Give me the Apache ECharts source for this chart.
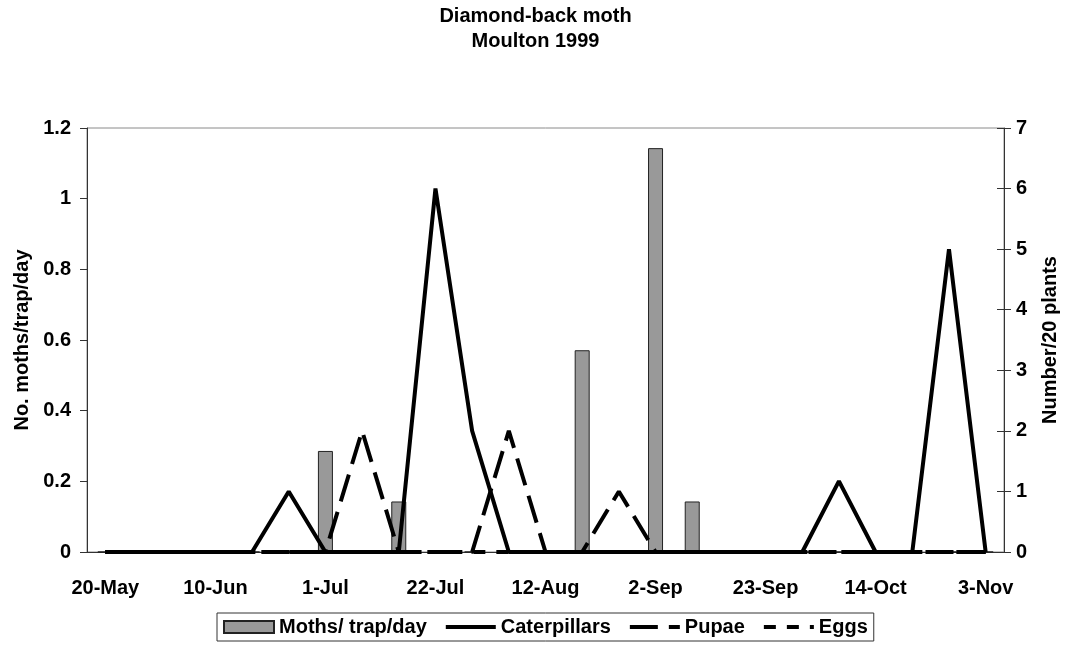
<!DOCTYPE html>
<html><head><meta charset="utf-8">
<script src="https://cdn.jsdelivr.net/npm/echarts@6/dist/echarts.min.js"></script>
<style>html,body{margin:0;padding:0;background:#fff}#c{width:1071px;height:650px}</style>
</head><body><div id="c"></div>
<script>
// Weekly sampling dates (category axis), labels shown every third week
const categories = ['20-May','27-May','3-Jun','10-Jun','17-Jun','24-Jun','1-Jul','8-Jul','15-Jul','22-Jul','29-Jul','5-Aug','12-Aug','19-Aug','26-Aug','2-Sep','9-Sep','16-Sep','23-Sep','30-Sep','7-Oct','14-Oct','21-Oct','28-Oct','3-Nov'];
// Left axis: moths per trap per day
const moths = [0,0,0,0,0,0,0.286,0,0.143,0,0,0,0,0.571,0,1.143,0.143,0,0,0,0,0,0,0,0];
// Right axis: number per 20 plants
const caterpillars = [0,0,0,0,0,1,0,0,0,6,2,0,0,0,0,0,0,0,0,0,1.17,0,0,5,0];
const pupae = [0,0,0,0,0,0,0,2,0,0,0,2,0,0,1,0,0,0,0,0,0,0,0,0,0];
const eggs = [0,0,0,0,0,0,0,0,0,0,0,0,0,0,0,0,0,0,0,0,0,0,0,0,0];
const leftTicks = {min:0, max:1.2, interval:0.2};
const rightTicks = {min:0, max:7, interval:1};

const FONT = '"Liberation Sans", Arial, sans-serif';
const txt = {fontFamily: FONT, fontWeight: 'bold', fontSize: 20, color: '#000'};
const noSymbol = {opacity: 0};
const chart = echarts.init(document.getElementById('c'), null, {renderer: 'canvas'});
chart.setOption({
  animation: false,
  backgroundColor: '#fff',
  title: {
    text: 'Diamond-back moth\nMoulton 1999',
    left: 'center', top: 4, padding: 0,
    textStyle: Object.assign({}, txt, {lineHeight: 25})
  },
  grid: {left: 87, right: 67, top: 128, bottom: 98, show: true, borderColor: '#8a8a8a', borderWidth: 1, containLabel: false, outerBoundsMode: 'none'},
  legend: {
    left: 217, top: 613,
    padding: [4, 6],
    borderColor: '#333', borderWidth: 1,
    itemWidth: 50, itemHeight: 12, itemGap: 17,
    lineStyle: {width: 4},
    textStyle: Object.assign({}, txt, {lineHeight: 20}),
    data: [
      {name: 'Moths/ trap/day', icon: 'rect'},
      {name: 'Caterpillars', itemStyle: noSymbol},
      {name: 'Pupae', itemStyle: noSymbol},
      {name: 'Eggs', itemStyle: noSymbol}
    ]
  },
  xAxis: {
    type: 'category', data: categories, boundaryGap: true,
    axisLine: {lineStyle: {color: '#333', width: 1}},
    axisTick: {interval: 0, length: 7, lineStyle: {color: '#333'}},
    axisLabel: Object.assign({}, txt, {interval: 2, margin: 26}),
    splitLine: {show: false}
  },
  yAxis: [
    Object.assign({
      type: 'value', position: 'left',
      name: 'No. moths/trap/day', nameLocation: 'middle', nameGap: 55, nameRotate: 90,
      nameTextStyle: txt,
      axisLine: {show: true, lineStyle: {color: '#333'}},
      axisTick: {show: true, length: 7, lineStyle: {color: '#333'}},
      axisLabel: Object.assign({}, txt, {margin: 16}),
      splitLine: {show: false}
    }, leftTicks),
    Object.assign({
      type: 'value', position: 'right',
      name: 'Number/20 plants', nameLocation: 'middle', nameGap: 36, nameRotate: 90,
      nameTextStyle: txt,
      axisLine: {show: true, lineStyle: {color: '#333'}},
      axisTick: {show: true, length: 7, lineStyle: {color: '#333'}},
      axisLabel: Object.assign({}, txt, {margin: 12}),
      splitLine: {show: false}
    }, rightTicks),
    Object.assign({
      type: 'value', position: 'right',
      axisLine: {show: false},
      axisTick: {show: true, inside: true, length: 7, lineStyle: {color: '#333'}},
      axisLabel: {show: false},
      splitLine: {show: false}
    }, rightTicks)
  ],
  series: [
    {
      name: 'Moths/ trap/day', type: 'bar', yAxisIndex: 0, data: moths,
      barWidth: 15,
      itemStyle: {color: '#999999', borderColor: '#222', borderWidth: 1}
    },
    {
      name: 'Caterpillars', type: 'line', yAxisIndex: 1, data: caterpillars,
      symbol: 'none', lineStyle: {color: '#000', width: 4, type: 'solid'},
      itemStyle: {color: '#000'}
    },
    {
      name: 'Pupae', type: 'line', yAxisIndex: 1, data: pupae,
      symbol: 'none', lineStyle: {color: '#000', width: 4, type: [28, 11]},
      itemStyle: {color: '#000'}
    },
    {
      name: 'Eggs', type: 'line', yAxisIndex: 1, data: eggs,
      symbol: 'none', lineStyle: {color: '#000', width: 4, type: [12, 11]},
      itemStyle: {color: '#000'}
    }
  ]
});
</script>
</body></html>
